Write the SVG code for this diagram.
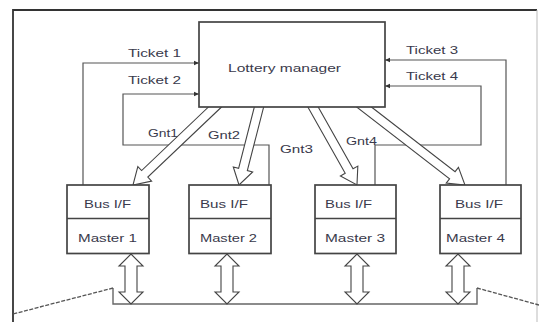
<svg xmlns="http://www.w3.org/2000/svg" width="539" height="322" viewBox="0 0 539 322">
  <defs>
    <marker id="tip" markerWidth="6" markerHeight="6" refX="5" refY="3" orient="auto" markerUnits="userSpaceOnUse">
      <path d="M0,0.8 L5,3 L0,5.2 Z" fill="#333"/>
    </marker>
    <style>
      .frame { fill: none; stroke: #333; stroke-width: 1.8; }
      .frame-light { fill: none; stroke: #bbb; stroke-width: 1; }
      .wire { fill: none; stroke: #555; stroke-width: 1.2; }
      .bus { fill: none; stroke: #666; stroke-width: 1.4; }
      .dash { fill: none; stroke: #555; stroke-width: 1.3; stroke-dasharray: 4 1.5; }
      .grant { fill: #fff; stroke: #444; stroke-width: 1.1; stroke-linejoin: miter; }
      .box { fill: #fff; stroke: #444; stroke-width: 1.7; }
      .lbl { font-family: "Liberation Sans", Arial, sans-serif; font-size: 11px; fill: #3a3a4c; }
    </style>
  </defs>

  <!-- page frame -->
  <path class="frame" d="M13,322 V10 H537"/>
  <path class="frame-light" d="M537,10 V322"/>

  <g id="connectors">
    <!-- ticket request lines -->
    <path class="wire" d="M83,185 V63 H199" marker-end="url(#tip)"/>
    <path class="wire" d="M269,185 V145 H123 V94 H199" marker-end="url(#tip)"/>
    <path class="wire" d="M506,185 V60 H385" marker-end="url(#tip)"/>
    <path class="wire" d="M375,185 V145 H481 V86 H385" marker-end="url(#tip)"/>

    <!-- grant arrows -->
    <polygon class="grant" transform="translate(215,107) rotate(136.43)" points="-8,-4.5 97,-4.5 97,-10 113.2,0 97,10 97,4.5 -8,4.5"/>
    <polygon class="grant" transform="translate(259,107) rotate(104.38)" points="-8,-4.5 64.5,-4.5 64.5,-10 80.5,0 64.5,10 64.5,4.5 -8,4.5"/>
    <polygon class="grant" transform="translate(313,107) rotate(60.57)" points="-8,-4.5 73.5,-4.5 73.5,-10 89.5,0 73.5,10 73.5,4.5 -8,4.5"/>
    <polygon class="grant" transform="translate(364,107) rotate(37.68)" points="-8,-4.5 111.6,-4.5 111.6,-10 127.6,0 111.6,10 111.6,4.5 -8,4.5"/>

    <!-- shared bus -->
    <path class="bus" d="M113,288 V304 H477 V288"/>
    <path class="dash" d="M113,288 L13,314"/>
    <path class="dash" d="M477,288 L539,305"/>

    <!-- master to bus double arrows -->
    <polygon class="grant" points="131,254 143,266 137,266 137,292 143,292 131,304 119,292 125,292 125,266 119,266"/>
    <polygon class="grant" points="227,254 239,266 233,266 233,292 239,292 227,304 215,292 221,292 221,266 215,266"/>
    <polygon class="grant" points="357,254 369,266 363,266 363,292 369,292 357,304 345,292 351,292 351,266 345,266"/>
    <polygon class="grant" points="458,254 470,266 464,266 464,292 470,292 458,304 446,292 452,292 452,266 446,266"/>
  </g>

  <g id="connector-labels">
    <text class="lbl" x="128" y="57" textLength="53" lengthAdjust="spacingAndGlyphs">Ticket 1</text>
    <text class="lbl" x="128" y="84" textLength="53" lengthAdjust="spacingAndGlyphs">Ticket 2</text>
    <text class="lbl" x="406" y="53.5" textLength="52" lengthAdjust="spacingAndGlyphs">Ticket 3</text>
    <text class="lbl" x="406" y="80" textLength="52" lengthAdjust="spacingAndGlyphs">Ticket 4</text>
    <text class="lbl" x="148" y="137" textLength="30" lengthAdjust="spacingAndGlyphs">Gnt1</text>
    <text class="lbl" x="208" y="139" textLength="32" lengthAdjust="spacingAndGlyphs">Gnt2</text>
    <text class="lbl" x="280" y="153" textLength="33" lengthAdjust="spacingAndGlyphs">Gnt3</text>
    <text class="lbl" x="346" y="145" textLength="31" lengthAdjust="spacingAndGlyphs">Gnt4</text>
  </g>

  <g id="lottery-manager">
    <rect class="box" x="199" y="22" width="186" height="85"/>
    <text class="lbl" x="228" y="72" textLength="113" lengthAdjust="spacingAndGlyphs">Lottery manager</text>
  </g>

  <g id="master-1">
    <rect class="box" x="67" y="185" width="82" height="68.5"/>
    <line class="box" x1="67" y1="218.5" x2="149" y2="218.5"/>
    <text class="lbl" x="84" y="207.5" textLength="47" lengthAdjust="spacingAndGlyphs">Bus I/F</text>
    <text class="lbl" x="78" y="242" textLength="59" lengthAdjust="spacingAndGlyphs">Master 1</text>
  </g>

  <g id="master-2">
    <rect class="box" x="189" y="185" width="82" height="68.5"/>
    <line class="box" x1="189" y1="218.5" x2="271" y2="218.5"/>
    <text class="lbl" x="200" y="207.5" textLength="48" lengthAdjust="spacingAndGlyphs">Bus I/F</text>
    <text class="lbl" x="200" y="242" textLength="57" lengthAdjust="spacingAndGlyphs">Master 2</text>
  </g>

  <g id="master-3">
    <rect class="box" x="315" y="185" width="81" height="68.5"/>
    <line class="box" x1="315" y1="218.5" x2="396" y2="218.5"/>
    <text class="lbl" x="325" y="207.5" textLength="47" lengthAdjust="spacingAndGlyphs">Bus I/F</text>
    <text class="lbl" x="325" y="242" textLength="60" lengthAdjust="spacingAndGlyphs">Master 3</text>
  </g>

  <g id="master-4">
    <rect class="box" x="440" y="185" width="81" height="68.5"/>
    <line class="box" x1="440" y1="218.5" x2="521" y2="218.5"/>
    <text class="lbl" x="455" y="207.5" textLength="48" lengthAdjust="spacingAndGlyphs">Bus I/F</text>
    <text class="lbl" x="446" y="242" textLength="59" lengthAdjust="spacingAndGlyphs">Master 4</text>
  </g>
</svg>
